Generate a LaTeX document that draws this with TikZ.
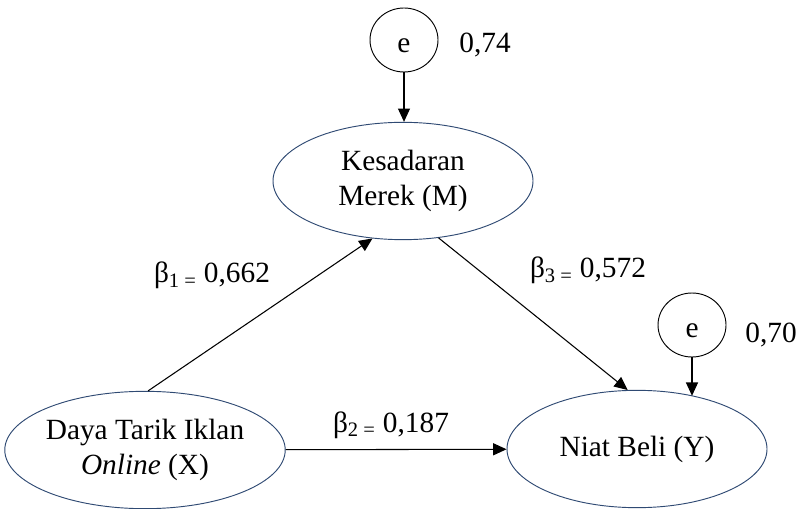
\documentclass[tikz,border=0pt]{standalone}
\usepackage{fontspec}
\setmainfont{Liberation Serif}
\usetikzlibrary{shapes.geometric,arrows.meta}
\definecolor{navy}{HTML}{2F4A73}
\tikzstyle{arr}=[-{Triangle[length=10pt,width=9pt]},line width=0.8pt]

\begin{document}
\begin{tikzpicture}[x=0.75pt,y=-0.75pt]
  \tikzstyle var=[ellipse,draw=navy,line width=0.7pt,minimum width=195pt,minimum height=88pt,inner sep=0pt,align=center,font=\fontsize{22}{26}\selectfont];
  \tikzstyle err=[ellipse,draw,line width=0.7pt,minimum width=51pt,minimum height=48pt,inner sep=0pt,text height=19pt,text depth=0pt,font=\fontsize{22}{26}\selectfont];
  \tikzstyle lbl=[anchor=base,inner sep=0pt,font=\fontsize{22}{26}\selectfont];
  \useasboundingbox (0,0) rectangle (802,509);

  % latent variables
  \node[var] (M) at (403,181) {Kesadaran\\Merek (M)};
  \node[var] (X) at (145,450) {Daya Tarik Iklan\\\textit{Online} (X)};
  \node[var] (Y) at (637,449) {Niat Beli (Y)};

  % error terms
  \node[err] (eM) at (404,40) {e};
  \node[err] (eY) at (692,325) {e};
  \node[lbl] (rM) at (485,53) {0,74};
  \node[lbl] (rY) at (771,342) {0,70};

  % paths
  \draw[arr] (eM) -- (eM |- M.north);
  \draw[arr] (eY) -- (eY |- Y.43);
  \draw[arr] (X.87) -- (M.242);
  \draw[arr] (M.-58) -- (Y.99);
  \draw[arr] (X) -- (Y);

  % coefficients
  \node[lbl] (b1) at (212,283) {β\textsubscript{1 =} 0,662};
  \node[lbl] (b2) at (391,432) {β\textsubscript{2 =} 0,187};
  \node[lbl] (b3) at (588,278) {β\textsubscript{3 =} 0,572};
\end{tikzpicture}
\end{document}
